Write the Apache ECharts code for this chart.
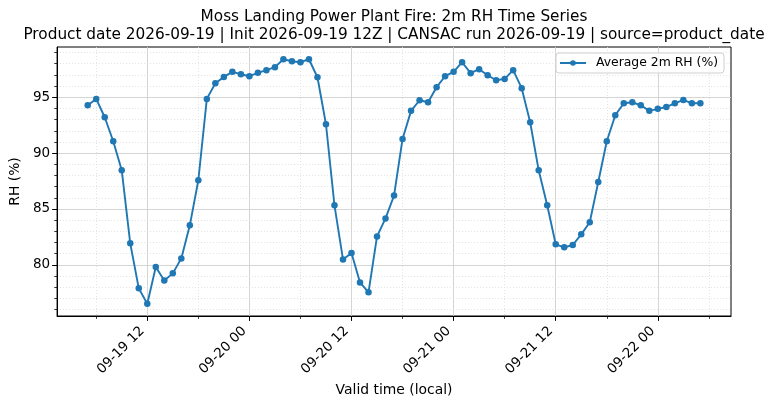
<!DOCTYPE html>
<html>
<head>
<meta charset="utf-8">
<script src="https://cdn.jsdelivr.net/npm/echarts@6/dist/echarts.min.js"></script>
<style>
    html, body { margin: 0; padding: 0; background: #fff; }
    #chart { width: 775px; height: 409px; }
</style>
</head>
<body>
<div id="chart"></div>
<script>
// first valid time, then one value per hour
var firstTime = '2026-09-19T05:00:00';
var rhValues = [
    94.28, 94.85, 93.21, 91.06, 88.46, 81.93, 77.90, 76.52, 79.81, 78.61, 79.24, 80.58,
    83.54, 87.57, 94.85, 96.25, 96.82, 97.27, 97.06, 96.88, 97.18, 97.42, 97.69, 98.40,
    98.22, 98.13, 98.40, 96.79, 92.58, 85.33, 80.49, 81.06, 78.43, 77.54, 82.55, 84.16,
    86.20, 91.27, 93.78, 94.73, 94.55, 95.90, 96.88, 97.27, 98.13, 97.15, 97.51, 96.97,
    96.52, 96.64, 97.42, 95.81, 92.76, 88.46, 85.33, 81.84, 81.57, 81.78, 82.73, 83.81,
    87.42, 91.06, 93.39, 94.46, 94.55, 94.28, 93.78, 93.96, 94.13, 94.46, 94.76, 94.46,
    94.46
];
var majorTimeTicks = ['2026-09-19T12:00:00', '2026-09-20T00:00:00', '2026-09-20T12:00:00',
    '2026-09-21T00:00:00', '2026-09-21T12:00:00', '2026-09-22T00:00:00'];
var minorTimeTicks = ['2026-09-19T06:00:00', '2026-09-19T18:00:00', '2026-09-20T06:00:00',
    '2026-09-20T18:00:00', '2026-09-21T06:00:00', '2026-09-21T18:00:00', '2026-09-22T06:00:00'];
var majorRhTicks = [80, 85, 90, 95];
var minorRhTicks = [76, 77, 78, 79, 81, 82, 83, 84, 86, 87, 88, 89, 91, 92, 93, 94, 96, 97, 98, 99];

(function() {
    var FONT = 'DejaVu Sans';
    var HOUR = 3600 * 1000;

    var pad = function(n) {
        return n < 10 ? '0' + n : '' + n;
    };
    var toMs = function(s) {
        return new Date(s).getTime();
    };

    // hourly points
    var t0 = toMs(firstTime);
    var points = [];
    for (var i = 0; i < rhValues.length; i++) {
        points.push([t0 + i * HOUR, rhValues[i]]);
    }

    // matplotlib style 5% margins
    var tMin = points[0][0], tMax = points[points.length - 1][0];
    var xPad = (tMax - tMin) * 0.05;
    var vMin = Math.min.apply(null, rhValues), vMax = Math.max.apply(null, rhValues);
    var yPad = (vMax - vMin) * 0.05;

    var xMajor = majorTimeTicks.map(toMs);
    var xMinor = minorTimeTicks.map(toMs);

    var timeLabel = function(v) {
        var d = new Date(v);
        return pad(d.getMonth() + 1) + '-' + pad(d.getDate()) + ' ' + pad(d.getHours());
    };

    var xBase = {
        type: 'value',
        gridIndex: 0,
        position: 'bottom',
        scale: true,
        min: tMin - xPad,
        max: tMax + xPad
    };
    var yBase = {
        type: 'value',
        gridIndex: 0,
        position: 'left',
        scale: true,
        min: vMin - yPad,
        max: vMax + yPad
    };

    var option = {
        animation: false,
        backgroundColor: '#fff',
        textStyle: { fontFamily: FONT },
        title: {
            text: 'Moss Landing Power Plant Fire: 2m RH Time Series\n' +
                'Product date 2026-09-19 | Init 2026-09-19 12Z | CANSAC run 2026-09-19 | source=product_date',
            left: 394,
            top: 8,
            textAlign: 'center',
            padding: 0,
            textStyle: {
                fontFamily: FONT,
                fontSize: 15.3,
                fontWeight: 'normal',
                color: '#000',
                lineHeight: 18.3
            }
        },
        legend: {
            right: 51,
            top: 53,
            padding: [4, 6, 4, 3],
            itemWidth: 26,
            itemHeight: 7,
            borderColor: '#d0d0d0',
            borderWidth: 1,
            borderRadius: 3,
            backgroundColor: 'rgba(255,255,255,0.8)',
            textStyle: { fontFamily: FONT, fontSize: 12.4, color: '#000', padding: [0, 0, 0, 5] },
            data: ['Average 2m RH (%)']
        },
        grid: {
            left: 57,
            right: 44,
            top: 47,
            bottom: 93,
            show: true,
            borderColor: '#000',
            borderWidth: 1,
            backgroundColor: 'transparent'
        },
        xAxis: [
            echarts.util.merge({
                name: 'Valid time (local)',
                nameLocation: 'middle',
                nameGap: 66,
                nameTextStyle: { fontFamily: FONT, fontSize: 13.9, color: '#000', verticalAlign: 'top' },
                axisLine: { show: true, lineStyle: { color: '#000', width: 1 } },
                axisTick: { show: true, length: 4.9, customValues: xMajor, lineStyle: { color: '#000', width: 1 } },
                axisLabel: {
                    customValues: xMajor,
                    rotate: 45,
                    margin: 8,
                    padding: [0, 7, 0, 0],
                    fontFamily: FONT,
                    fontSize: 13.5,
                    color: '#000',
                    formatter: timeLabel
                },
                splitLine: { show: true, lineStyle: { color: '#d0d0d0', width: 0.9 } }
            }, xBase),
            echarts.util.merge({
                axisLine: { show: false },
                axisTick: { show: true, length: 2.8, customValues: xMinor, lineStyle: { color: '#000', width: 0.8 } },
                axisLabel: { show: false },
                splitLine: { show: true, lineStyle: { color: '#dcdcdc', width: 0.8, type: [1, 2] } }
            }, xBase)
        ],
        yAxis: [
            echarts.util.merge({
                name: 'RH (%)',
                nameLocation: 'middle',
                nameGap: 31,
                nameRotate: 90,
                nameTextStyle: { fontFamily: FONT, fontSize: 13.9, color: '#000' },
                axisLine: { show: true, lineStyle: { color: '#000', width: 1 } },
                axisTick: { show: true, length: 4.9, customValues: majorRhTicks, lineStyle: { color: '#000', width: 1 } },
                axisLabel: {
                    customValues: majorRhTicks,
                    margin: 7,
                    fontFamily: FONT,
                    fontSize: 13.5,
                    color: '#000'
                },
                splitLine: { show: true, lineStyle: { color: '#d0d0d0', width: 0.9 } }
            }, yBase),
            echarts.util.merge({
                axisLine: { show: false },
                axisTick: { show: true, length: 2.8, customValues: minorRhTicks, lineStyle: { color: '#000', width: 0.8 } },
                axisLabel: { show: false },
                splitLine: { show: true, lineStyle: { color: '#dcdcdc', width: 0.8, type: [1, 2] } }
            }, yBase)
        ],
        series: [{
            name: 'Average 2m RH (%)',
            type: 'line',
            xAxisIndex: 0,
            yAxisIndex: 0,
            data: points,
            symbol: 'circle',
            symbolSize: 6.5,
            showAllSymbol: true,
            lineStyle: { color: '#1f77b4', width: 1.9 },
            itemStyle: { color: '#1f77b4' },
            z: 5
        }]
    };

    var chart = echarts.init(document.getElementById('chart'), null, { renderer: 'canvas' });
    chart.setOption(option);
})();
</script>
</body>
</html>
